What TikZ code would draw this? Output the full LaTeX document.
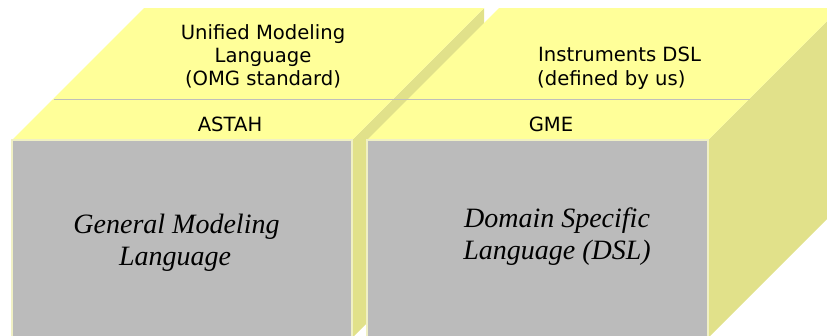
\documentclass[tikz,border=0pt]{standalone}
\usepackage{fontspec}
\newfontfamily\labsans{DejaVu Sans}
\newfontfamily\labserif{Liberation Serif}
\definecolor{topface}{HTML}{FFFF99}
\definecolor{sideface}{HTML}{E1E18A}
\definecolor{frontface}{HTML}{BBBBBB}
\definecolor{frontedge}{HTML}{F0F0C4}
\definecolor{sepline}{HTML}{BFBFBA}
\tikzset{
  topstyle/.style={fill=topface, draw=none},
  sidestyle/.style={fill=sideface, draw=none},
  frontstyle/.style={fill=frontface, draw=frontedge, line width=1.2pt},
  toplabel/.style={anchor=base, inner sep=0pt, font=\labsans\fontsize{19.6}{23}\selectfont, text=black},
  toplabelw/.style={anchor=base west, inner sep=0pt, font=\labsans\fontsize{19.6}{23}\selectfont, text=black},
  frontlabel/.style={anchor=base, inner sep=0pt, font=\labserif\itshape\fontsize{28}{32}\selectfont, text=black},
}
\begin{document}
\begin{tikzpicture}[x=1pt,y=-1pt]
\useasboundingbox (0,0) rectangle (827,335);
% left box
\fill[sidestyle] (352,140) -- (484,8) -- (484,206) -- (352,338) -- cycle;
\fill[topstyle] (12,140) -- (144,8) -- (484,8) -- (352,140) -- cycle;
\draw[frontstyle] (12,140) rectangle (352,340);
% right box
\fill[sidestyle] (708,140) -- (840,8) -- (840,206) -- (708,338) -- cycle;
\fill[topstyle] (367,140) -- (499,8) -- (840,8) -- (708,140) -- cycle;
\draw[frontstyle] (367,140) rectangle (708,340);
% separator
\coordinate (sepA) at (54,99.5);
\coordinate (sepB) at (750,99.5);
\draw[sepline, line width=1.8pt] (sepA) -- (sepB);
% labels
\node[toplabel] (uml1) at (263,39) {Unified Modeling};
\node[toplabel] (uml2) at (263,62) {Language};
\node[toplabel] (uml3) at (263,85) {(OMG standard)};
\node[toplabel] (astah) at (230,131) {ASTAH};
\node[toplabelw] (dsl1) at (538,61.7) {Instruments DSL};
\node[toplabelw] (dsl2) at (537,85) {(defined by us)};
\node[toplabel] (gme) at (551,131) {GME};
\node[frontlabel] (gml1) at (176.5,233) {General Modeling};
\node[frontlabel] (gml2) at (175,265) {Language};
\node[frontlabel] (dsl3) at (557,227) {Domain Specific};
\node[frontlabel] (dsl4) at (557,259.5) {Language (DSL)};
\end{tikzpicture}
\end{document}
